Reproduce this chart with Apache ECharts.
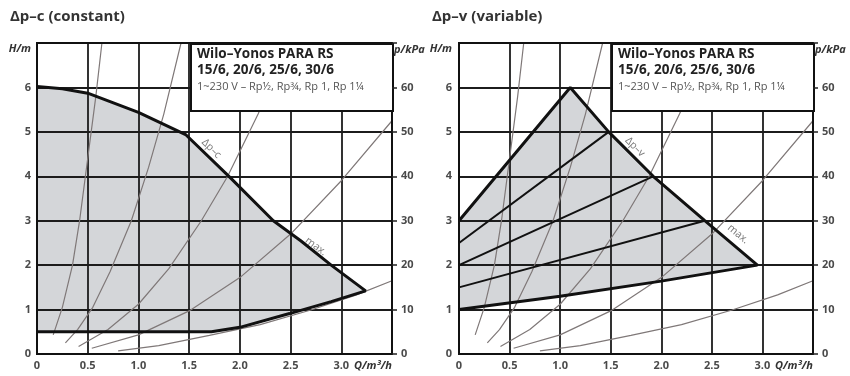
<!DOCTYPE html>
<html>
<head>
<meta charset="utf-8">
<script src="https://cdn.jsdelivr.net/npm/echarts@6.0.0/dist/echarts.min.js"></script>
<style>
  html, body { margin: 0; padding: 0; background: #fff; }
  #chart { width: 850px; height: 376px; }
</style>
</head>
<body>
<div id="chart"></div>
<script>
// Panel headings
const panelTitles = ['Δp–c (constant)', 'Δp–v (variable)'];

// Pump name block
const pumpName = 'Wilo–Yonos PARA RS';
const pumpSizes = '15/6, 20/6, 25/6, 30/6';
const pumpSupply = '1~230 V – Rp½, Rp¾, Rp 1, Rp 1¼';

// Axis ranges: flow Q in m³/h, head H in m, pressure p in kPa
const flowRange = [0, 3.5, 0.5];
const headRange = [0, 7, 1];
const pressureRange = [0, 70, 10];
const flowUnit = 'Q/m³/h';
const headUnit = 'H/m';
const pressureUnit = 'p/kPa';

// System resistance curves [Q, H] (same on both panels)
const systemA = [[0.16, 0.43], [0.25, 1.05], [0.35, 2.0], [0.42, 3.0], [0.50, 4.4], [0.58, 5.8], [0.64, 7.0]];
const systemB = [[0.28, 0.25], [0.40, 0.55], [0.55, 1.05], [0.72, 1.85], [0.93, 3.0], [1.10, 4.2], [1.25, 5.4], [1.42, 7.0]];
const systemC = [[0.41, 0.17], [0.70, 0.55], [1.00, 1.12], [1.30, 1.92], [1.62, 3.0], [1.88, 4.0], [2.18, 5.4], [2.48, 7.0]];
const systemD = [[0.54, 0.13], [1.00, 0.43], [1.50, 0.97], [2.00, 1.72], [2.50, 2.7], [3.00, 3.9], [3.50, 5.25]];
const systemE = [[0.80, 0.07], [1.20, 0.19], [1.70, 0.42], [2.20, 0.66], [2.70, 0.99], [3.15, 1.33], [3.50, 1.65]];

// Δp-c working range outline: upper (Δp-c + max) then lower back to Q = 0
const constantOutline = [[0, 6.02], [0.25, 5.97], [0.5, 5.87], [1.0, 5.44], [1.47, 4.93], [1.9, 3.98],
  [2.33, 3.0], [2.6, 2.55], [2.9, 2.0], [3.24, 1.42], [2.9, 1.18], [2.49, 0.91], [2.0, 0.6], [1.72, 0.5], [0, 0.5]];

// Δp-v working range outline
const variableOutline = [[0, 3.0], [1.1, 6.0], [1.48, 5.0], [1.92, 4.0], [2.43, 3.0], [2.95, 2.0],
  [2.0, 1.64], [1.0, 1.3], [0, 1.0]];
// Intermediate Δp-v set-point lines
const variableLineA = [[0, 2.5], [1.48, 5.0]];
const variableLineB = [[0, 2.0], [1.92, 4.0]];
const variableLineC = [[0, 1.5], [2.43, 3.0]];

// Curve tags: [Q, H, text, angle]
const constantTags = [[1.72, 4.62, 'Δp–c', -45], [2.75, 2.42, 'max.', -37]];
const variableTags = [[1.74, 4.66, 'Δp–v', -45], [2.76, 2.7, 'max.', -40]];

const FONT = '"Open Sans", "Noto Sans", sans-serif';
const FILL = '#d4d6d9';
const CURVE = '#7f7878';
const GRIDLINE = { color: '#1c1c1c', width: 1.8 };

function xAxisFor(gridIndex) {
  return {
    type: 'value', gridIndex, min: flowRange[0], max: flowRange[1], interval: flowRange[2],
    z: 3,
    axisLine: { show: false }, axisTick: { show: false },
    splitLine: { show: true, lineStyle: GRIDLINE },
    axisLabel: {
      margin: 6, color: '#4a4a4a', fontFamily: FONT, fontSize: 11, fontWeight: 'bold',
      alignMaxLabel: 'right',
      formatter: v => v === flowRange[1] ? '{u|' + flowUnit + '}' : (v === 0 ? '0' : v.toFixed(1)),
      rich: { u: { fontStyle: 'italic', fontWeight: 'bold', color: '#333', fontFamily: FONT, fontSize: 11 } }
    }
  };
}
function headAxisFor(gridIndex, margin) {
  return {
    type: 'value', gridIndex, position: 'left', min: headRange[0], max: headRange[1], interval: headRange[2],
    z: 3,
    axisLine: { show: false }, axisTick: { show: false },
    splitLine: { show: true, lineStyle: GRIDLINE },
    axisLabel: {
      margin, color: '#4a4a4a', fontFamily: FONT, fontSize: 11, fontWeight: 'bold',
      verticalAlignMaxLabel: 'top',
      formatter: v => v === headRange[1] ? '{u|' + headUnit + '}' : String(v),
      rich: { u: { fontStyle: 'italic', fontWeight: 'bold', color: '#333', fontFamily: FONT, fontSize: 11 } }
    }
  };
}
function pressureAxisFor(gridIndex) {
  return {
    type: 'value', gridIndex, position: 'right', min: pressureRange[0], max: pressureRange[1], interval: pressureRange[2],
    z: 25,
    name: pressureUnit,
    nameLocation: 'end',
    nameGap: 0,
    nameTextStyle: {
      align: 'left', verticalAlign: 'top', padding: [1, 0, 0, 2],
      fontStyle: 'italic', fontWeight: 'bold', color: '#333', fontFamily: FONT, fontSize: 11
    },
    axisLine: { show: false },
    axisTick: { show: true, length: 5, lineStyle: { color: '#222', width: 1.5 } },
    splitLine: { show: false },
    axisLabel: {
      margin: 9, color: '#4a4a4a', fontFamily: FONT, fontSize: 11, fontWeight: 'bold',
      formatter: v => v === pressureRange[1] ? '' : String(v)
    }
  };
}

function polygonSeries(points, xi, yi) {
  return {
    type: 'custom', xAxisIndex: xi, yAxisIndex: yi, z: 1, silent: true, clip: true,
    data: points,
    encode: { x: 0, y: 1 },
    renderItem: (params, api) => {
      if (params.dataIndex !== 0) return null;
      return {
        type: 'polygon',
        shape: { points: points.map(p => api.coord(p)) },
        style: { fill: FILL }
      };
    }
  };
}
function lineSeries(points, xi, yi, width, color, z) {
  return {
    type: 'line', xAxisIndex: xi, yAxisIndex: yi, data: points, showSymbol: false, silent: true,
    lineStyle: { color, width }, z, animation: false
  };
}
function tagSeries(tags, xi, yi) {
  return tags.map(t => ({
    type: 'scatter', xAxisIndex: xi, yAxisIndex: yi, symbolSize: 0, silent: true, z: 9,
    data: [[t[0], t[1]]],
    label: {
      show: true, position: 'inside', formatter: t[2], rotate: t[3],
      color: '#555', fontFamily: FONT, fontSize: 10.5
    }
  }));
}
function nameBlock(left) {
  return {
    type: 'group', left, top: 43, z: 20,
    children: [
      { type: 'rect', shape: { x: 0, y: 0, width: 202, height: 67 },
        style: { fill: '#fff', stroke: '#111', lineWidth: 2 }, z: 20 },
      { type: 'text', x: 6, y: 3, z: 21,
        style: { text: pumpName, fill: '#222', font: 'bold 13.5px ' + FONT } },
      { type: 'text', x: 6, y: 19, z: 21,
        style: { text: pumpSizes, fill: '#222', font: 'bold 13.5px ' + FONT } },
      { type: 'text', x: 6, y: 37, z: 21,
        style: { text: pumpSupply, fill: '#555', font: '11px ' + FONT } }
    ]
  };
}

const systemCurves = [systemA, systemB, systemC, systemD, systemE];

const series = [];
// left panel: Δp-c
series.push(polygonSeries(constantOutline, 0, 0));
systemCurves.forEach(c => series.push(lineSeries(c, 0, 0, 1.2, CURVE, 4)));
series.push(lineSeries(constantOutline, 0, 0, 3, '#111', 10));
tagSeries(constantTags, 0, 0).forEach(s => series.push(s));
// right panel: Δp-v
series.push(polygonSeries(variableOutline, 1, 2));
systemCurves.forEach(c => series.push(lineSeries(c, 1, 2, 1.2, CURVE, 4)));
[variableLineA, variableLineB, variableLineC].forEach(l => series.push(lineSeries(l, 1, 2, 2, '#111', 9)));
series.push(lineSeries(variableOutline, 1, 2, 3, '#111', 10));
tagSeries(variableTags, 1, 2).forEach(s => series.push(s));

const chart = echarts.init(document.getElementById('chart'), null, { renderer: 'canvas' });
chart.setOption({
  animation: false,
  backgroundColor: '#fff',
  title: [
    { text: panelTitles[0], left: 5, top: 4, textStyle: { fontFamily: FONT, fontSize: 15, fontWeight: 'bold', color: '#333' } },
    { text: panelTitles[1], left: 427, top: 4, textStyle: { fontFamily: FONT, fontSize: 15, fontWeight: 'bold', color: '#333' } }
  ],
  grid: [
    { left: 37, top: 43, width: 355, height: 311, show: true, borderColor: '#111', borderWidth: 2, backgroundColor: 'transparent', z: 6 },
    { left: 459, top: 43, width: 354, height: 311, show: true, borderColor: '#111', borderWidth: 2, backgroundColor: 'transparent', z: 6 }
  ],
  xAxis: [xAxisFor(0), xAxisFor(1)],
  yAxis: [headAxisFor(0, 6), pressureAxisFor(0), headAxisFor(1, 7), pressureAxisFor(1)],
  series,
  graphic: [nameBlock(190), nameBlock(611)]
});
</script>
</body>
</html>
